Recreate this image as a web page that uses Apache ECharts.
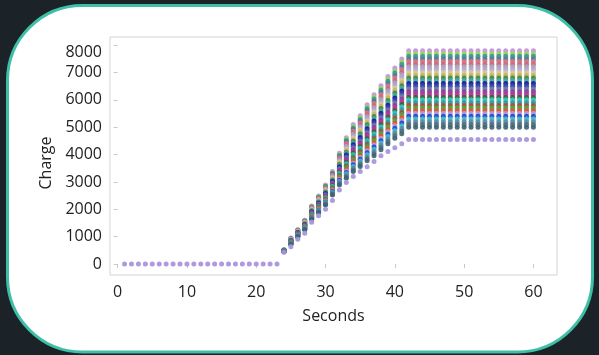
<!DOCTYPE html>
<html>
<head>
<meta charset="utf-8">
<script src="https://cdn.jsdelivr.net/npm/echarts@6/dist/echarts.min.js"></script>
<style>
  html, body { margin: 0; padding: 0; background: #1b2329; }
  #chart { width: 599px; height: 355px; }
</style>
</head>
<body>
<div id="chart"></div>
<script>
// ====================== data ======================
var seconds = [1, 2, 3, 4, 5, 6, 7, 8, 9, 10, 11, 12, 13, 14, 15, 16, 17, 18, 19, 20,
    21, 22, 23, 24, 25, 26, 27, 28, 29, 30, 31, 32, 33, 34, 35, 36, 37, 38, 39, 40,
    41, 42, 43, 44, 45, 46, 47, 48, 49, 50, 51, 52, 53, 54, 55, 56, 57, 58, 59, 60];

// lowest (lavender) series, one value per second
var lowSeries = [0, 0, 0, 0, 0, 0, 0, 0, 0, 0, 0, 0, 0, 0, 0, 0, 0, 0, 0, 0, 0, 0, 0,
    430, 635, 905, 1125, 1530, 1770, 2000, 2320, 2710, 2980, 3200, 3380, 3560, 3750, 3956, 4110, 4250, 4395,
    4550, 4550, 4550, 4550, 4550, 4550, 4550, 4550, 4550, 4550, 4550, 4550, 4550, 4550, 4550, 4550, 4550, 4550, 4550];

// plateau level of the other series (top to bottom)
var plateau = [7800, 7700, 7600, 7500, 7400, 7300, 7200, 7100, 7000, 6900, 6800, 6700, 6600, 6500, 6400,
    6300, 6200, 6100, 6000, 5900, 5800, 5700, 5600, 5500, 5400, 5300, 5200, 5100, 5000];

var plateauColors = ['#c58de8', '#9bd35a', '#3a9a8a', '#4a7a9a', '#e0707e', '#c86a80', '#a2a6b8', '#b4a4dc',
    '#d8c88c', '#c4b46c', '#3f8a3f', '#46a8a0', '#1c1c96', '#3444b4', '#6a7aa0', '#8a3c9c', '#c42e9c',
    '#2e6a34', '#34c4c4', '#2a9a9a', '#a0522e', '#4aa64a', '#e2502e', '#b09ce0', '#2444cc', '#3ac0c8',
    '#6484a4', '#4a7080', '#3e6470'];

// seconds 24..41: top and bottom of each column on the ramp
var rampSeconds = [24, 25, 26, 27, 28, 29, 30, 31, 32, 33, 34, 35, 36, 37, 38, 39, 40, 41];
var rampTop = [520, 950, 1250, 1600, 2125, 2490, 2894, 3381, 4050, 4620, 5100, 5421, 5824, 6190, 6520, 6860, 7170, 7500];
var rampLow = [450, 720, 1000, 1250, 1635, 1880, 2161, 2527, 2894, 3139, 3381, 3564, 3773, 3956, 4176, 4395, 4600, 4762];

var xTicks = [0, 10, 20, 30, 40, 50, 60];
var yTicks = [0, 1000, 2000, 3000, 4000, 5000, 6000, 7000, 8000];

// ====================== series ======================
var series = [];
var topCap = plateau[0], lowCap = plateau[plateau.length - 1];
for (var i = 0; i < plateau.length; i++) {
    var cap = plateau[i];
    var share = (cap - lowCap) / (topCap - lowCap);
    var pts = [];
    for (var j = 0; j < seconds.length; j++) {
        var s = seconds[j];
        var k = rampSeconds.indexOf(s);
        if (k >= 0) {
            pts.push([s, Math.round(rampLow[k] + (rampTop[k] - rampLow[k]) * share)]);
        } else if (s > rampSeconds[rampSeconds.length - 1]) {
            pts.push([s, cap]);
        }
    }
    series.push({
        type: 'scatter',
        symbolSize: 5,
        data: pts,
        itemStyle: { color: plateauColors[i], opacity: 0.9 },
        silent: true
    });
}
series.push({
    type: 'scatter',
    symbolSize: 5,
    data: seconds.map(function (s, j) { return [s, lowSeries[j]]; }),
    itemStyle: { color: '#a896dc', opacity: 0.95 },
    silent: true
});

var font = '"Open Sans", "Noto Sans", sans-serif';
var option = {
    animation: false,
    backgroundColor: 'transparent',
    graphic: [{
        type: 'rect',
        z: -10,
        silent: true,
        shape: { x: 7.5, y: 5.5, width: 585, height: 346.5, r: 75 },
        style: { fill: '#ffffff', stroke: '#3dbfa8', lineWidth: 3 }
    }],
    grid: {
        left: 110, right: 42, top: 37, bottom: 80,
        show: true, borderColor: '#d4d4d4', borderWidth: 1, backgroundColor: 'transparent'
    },
    xAxis: {
        type: 'value',
        min: -1.1, max: 63.4,
        name: 'Seconds',
        nameLocation: 'middle',
        nameGap: 33,
        nameTextStyle: { color: '#222', fontSize: 16, fontFamily: font },
        axisLine: { show: false },
        splitLine: { show: false },
        axisTick: { show: true, length: 4, lineStyle: { color: '#c8c8c8' }, customValues: xTicks },
        axisLabel: { color: '#222', fontSize: 16, fontFamily: font, margin: 9, customValues: xTicks }
    },
    yAxis: {
        type: 'value',
        min: -400, max: 8300,
        name: 'Charge',
        nameLocation: 'middle',
        nameGap: 52,
        nameTextStyle: { color: '#222', fontSize: 16, fontFamily: font, padding: [0, 14, 0, 0] },
        axisLine: { show: false },
        splitLine: { show: false },
        axisTick: { show: true, length: 4, lineStyle: { color: '#c8c8c8' }, customValues: yTicks },
        axisLabel: {
            color: '#222', fontSize: 16, fontFamily: font, margin: 8, customValues: yTicks,
            formatter: function (v) {
                // the top label sits a little lower than its tick in the original
                return v === 8000 ? '{top|' + v + '}' : String(v);
            },
            rich: {
                top: { color: '#222', fontSize: 16, fontFamily: font, padding: [14, 0, 0, 0] }
            }
        }
    },
    series: series
};

echarts.init(document.getElementById('chart')).setOption(option);
</script>
</body>
</html>
